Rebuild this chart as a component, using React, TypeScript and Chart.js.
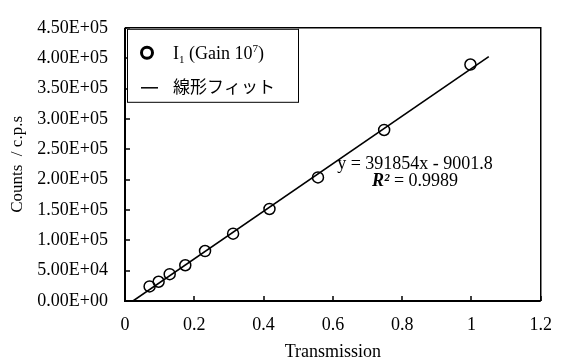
import React, { useEffect, useRef } from 'react';
import { Chart, registerables } from 'chart.js';

Chart.register(...registerables);

// ---- data ----
const transmission = [0.071, 0.097, 0.129, 0.174, 0.231, 0.312, 0.417, 0.557, 0.748, 0.997];
const counts = [24000, 31700, 44200, 58900, 82300, 110900, 151600, 203600, 281700, 389500];
const fitX = [0.023, 1.05];
const fitY = [0, 402400];
const xTicks = [0, 0.2, 0.4, 0.6, 0.8, 1, 1.2];
const yTicks = [0, 50000, 100000, 150000, 200000, 250000, 300000, 350000, 400000, 450000];
const seriesName = ['I', '1', ' (Gain 10', '7', ')']; // base, subscript, base, superscript, base
const fitName = '線形フィット';
const equationText = 'y = 391854x - 9001.8';
const r2Label = ['R', '²', ' = 0.9989'];
const xTitle = 'Transmission';
const yTitle = 'Counts  / c.p.s';

const SERIF = '"Liberation Serif", "Times New Roman", serif';
const JP = '"Noto Sans CJK JP", sans-serif';

function fmtExp(v: number): string {
  const [m, e] = v.toExponential(2).split('e');
  const n = parseInt(e, 10);
  return m + 'E' + (n < 0 ? '-' : '+') + String(Math.abs(n)).padStart(2, '0');
}

const framePlugin = {
  id: 'frameAndExtras',
  afterDraw(chart: any) {
    const { ctx, chartArea: a, scales } = chart;
    const xs = scales.x;
    const ys = scales.y;
    ctx.save();
    ctx.strokeStyle = '#000';
    // frame: thin top/right
    ctx.lineWidth = 1.5;
    ctx.beginPath();
    ctx.moveTo(a.left, a.top);
    ctx.lineTo(a.right, a.top);
    ctx.lineTo(a.right, a.bottom);
    ctx.stroke();
    // axes thick
    ctx.lineWidth = 2;
    ctx.beginPath();
    ctx.moveTo(a.left, a.top);
    ctx.lineTo(a.left, a.bottom);
    ctx.lineTo(a.right, a.bottom);
    ctx.stroke();
    // inward ticks
    ctx.lineWidth = 1.5;
    ctx.beginPath();
    yTicks.forEach((v) => {
      const y = Math.round(ys.getPixelForValue(v));
      ctx.moveTo(a.left, y);
      ctx.lineTo(a.left + 5, y);
    });
    xTicks.forEach((v) => {
      const x = Math.round(xs.getPixelForValue(v));
      ctx.moveTo(x, a.bottom);
      ctx.lineTo(x, a.bottom - 5);
    });
    ctx.stroke();

    // legend box
    const lx = a.left + 2;
    const ly = a.top + 1;
    const lw = 171;
    const lh = 73;
    ctx.fillStyle = '#fff';
    ctx.fillRect(lx, ly, lw, lh);
    ctx.lineWidth = 1;
    ctx.strokeRect(lx + 0.5, ly + 0.5, lw, lh);

    // row 1 marker
    ctx.lineWidth = 3;
    ctx.beginPath();
    ctx.arc(lx + 20, ly + 24, 5.5, 0, Math.PI * 2);
    ctx.stroke();
    // row 1 text with sub/superscript
    ctx.fillStyle = '#000';
    ctx.textBaseline = 'alphabetic';
    ctx.textAlign = 'left';
    let tx = lx + 46;
    const base = ly + 30;
    const parts: [string, number, number][] = [
      [seriesName[0], 18, 0],
      [seriesName[1], 11, 4],
      [seriesName[2], 18, 0],
      [seriesName[3], 11, -7],
      [seriesName[4], 18, 0],
    ];
    parts.forEach(([t, size, dy]) => {
      ctx.font = `${size}px ${SERIF}`;
      ctx.fillText(t, tx, base + dy);
      tx += ctx.measureText(t).width;
    });
    // row 2 line marker
    ctx.lineWidth = 1.5;
    ctx.beginPath();
    ctx.moveTo(lx + 14, ly + 59);
    ctx.lineTo(lx + 31, ly + 59);
    ctx.stroke();
    ctx.font = `17px ${JP}`;
    ctx.textBaseline = 'middle';
    ctx.fillText(fitName, lx + 46, ly + 58);

    // equation
    const cx = 415;
    ctx.textBaseline = 'alphabetic';
    ctx.textAlign = 'left';
    ctx.font = `18px ${SERIF}`;
    const ew = ctx.measureText(equationText).width;
    ctx.fillText(equationText, cx - ew / 2, 169);
    ctx.font = `bold italic 18px ${SERIF}`;
    const w0 = ctx.measureText(r2Label[0]).width;
    const w1 = ctx.measureText(r2Label[1]).width;
    ctx.font = `18px ${SERIF}`;
    const w2 = ctx.measureText(r2Label[2]).width;
    let rx = cx - (w0 + w1 + w2) / 2;
    ctx.font = `bold italic 18px ${SERIF}`;
    ctx.fillText(r2Label[0], rx, 186);
    rx += w0;
    ctx.fillText(r2Label[1], rx, 186);
    rx += w1;
    ctx.font = `18px ${SERIF}`;
    ctx.fillText(r2Label[2], rx, 186);
    ctx.restore();
  },
};

export default function App() {
  const ref = useRef<HTMLCanvasElement | null>(null);
  useEffect(() => {
    document.body.style.margin = '0';
    const canvas = ref.current;
    if (!canvas) return;
    const chart = new Chart(canvas, {
      type: 'scatter',
      data: {
        datasets: [
          {
            type: 'line',
            label: fitName,
            data: fitX.map((x, i) => ({ x, y: fitY[i] })),
            borderColor: '#000',
            borderWidth: 1.6,
            pointRadius: 0,
            showLine: true,
            fill: false,
          } as any,
          {
            label: 'I1 (Gain 10^7)',
            data: transmission.map((x, i) => ({ x, y: counts[i] })),
            borderColor: '#000',
            backgroundColor: 'rgba(0,0,0,0)',
            borderWidth: 1.5,
            pointRadius: 5.5,
            pointStyle: 'circle',
          },
        ],
      },
      options: {
        animation: false,
        responsive: false,
        maintainAspectRatio: false,
        layout: { padding: { top: 13, right: 20, left: 0, bottom: 0 } },
        plugins: { legend: { display: false }, tooltip: { enabled: false } },
        scales: {
          x: {
            type: 'linear',
            min: 0,
            max: 1.2,
            afterBuildTicks: (s: any) => {
              s.ticks = xTicks.map((v) => ({ value: v }));
            },
            afterFit: (s: any) => {
              s.height = 62;
            },
            grid: { display: false, drawTicks: false },
            border: { display: false },
            ticks: {
              color: '#000',
              font: { family: SERIF, size: 18 },
              padding: 13,
              maxRotation: 0,
              callback: (v: any) => String(Number(Number(v).toFixed(1))),
            },
            title: {
              display: true,
              text: xTitle,
              color: '#000',
              font: { family: SERIF, size: 18 },
              padding: { top: 0, bottom: 0 },
            },
          },
          y: {
            type: 'linear',
            min: 0,
            max: 450000,
            afterBuildTicks: (s: any) => {
              s.ticks = yTicks.map((v) => ({ value: v }));
            },
            afterFit: (s: any) => {
              s.width = 125;
            },
            grid: { display: false, drawTicks: false },
            border: { display: false },
            ticks: {
              color: '#000',
              font: { family: SERIF, size: 18 },
              padding: 17,
              callback: (v: any) => fmtExp(Number(v)),
            },
            title: {
              display: true,
              text: yTitle,
              color: '#000',
              font: { family: SERIF, size: 17 },
              padding: { top: 7, bottom: 0 },
            },
          },
        },
      },
      plugins: [framePlugin],
    });
    return () => chart.destroy();
  }, []);
  return (
    <div style={{ position: 'absolute', left: 0, top: 0, width: 565, height: 363, background: '#fff' }}>
      <canvas ref={ref} width={565} height={363} style={{ width: 565, height: 363, display: 'block' }} />
    </div>
  );
}
